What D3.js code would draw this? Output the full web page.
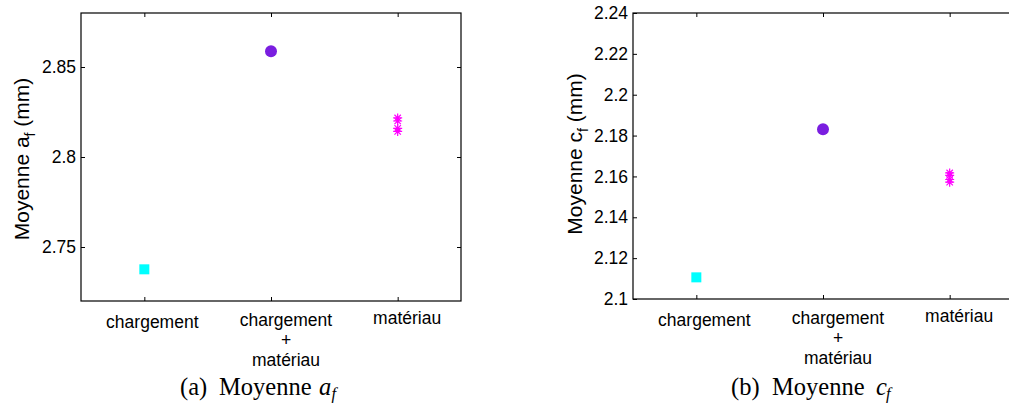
<!DOCTYPE html>
<html>
<head>
<meta charset="utf-8">
<script src="https://cdn.jsdelivr.net/npm/d3@7"></script>
<style>
  html, body { margin: 0; padding: 0; background: #fff; }
  svg { display: block; }
  .tick text { font-family: "Liberation Sans", Arial, sans-serif; }
</style>
</head>
<body>
<svg id="chart" width="1009" height="403"></svg>
<script>
// ---------- data ----------
const categories = [["chargement"], ["chargement", "+", "matériau"], ["matériau"]];
const afChargement = [2.7376];
const afChargementMateriau = [2.8587];
const afMateriau = [2.8217, 2.8200, 2.8159, 2.8142];
const cfChargement = [2.1106];
const cfChargementMateriau = [2.1831];
const cfMateriau = [2.1617, 2.1605, 2.1585, 2.1572];
const afTicks = [2.75, 2.8, 2.85];
const cfTicks = [2.1, 2.12, 2.14, 2.16, 2.18, 2.2, 2.22, 2.24];
const afDomain = [2.72, 2.88];
const cfDomain = [2.1, 2.24];

// ---------- layout ----------
const svg = d3.select("#chart");
const FONT = '"Liberation Sans", Arial, sans-serif';
const SERIF = '"Liberation Serif", "Times New Roman", serif';
const labelDx = [8, 15, 9.5];
const labelDy = [27, 24.5, 23];

const panels = [
  { left: 81, right: 461, top: 13, bottom: 301, domain: afDomain, ticks: afTicks,
    series: [afChargement, afChargementMateriau, afMateriau], letter: "a",
    ylabX: 28.5, ylabY: 159, capX: [180, 219, 319, 331.5], tag: "(a)" },
  { left: 633, right: 1013, top: 13, bottom: 299, domain: cfDomain, ticks: cfTicks,
    series: [cfChargement, cfChargementMateriau, cfMateriau], letter: "c",
    ylabX: 581.5, ylabY: 154, capX: [731, 772, 876, 886], tag: "(b)" }
];

const colors = ["#00ffff", "#7a1ee0", "#ff00ff"];

panels.forEach(p => {
  const x = d3.scaleLinear().domain([0.5, 3.5]).range([p.left, p.right]);
  const y = d3.scaleLinear().domain(p.domain).range([p.bottom, p.top]);
  const g = svg.append("g");

  // box
  g.append("rect").attr("x", p.left).attr("y", p.top)
    .attr("width", p.right - p.left).attr("height", p.bottom - p.top)
    .attr("fill", "none").attr("stroke", "#000").attr("stroke-width", 1.2);

  const fmt = v => String(+v.toFixed(2));
  // y axes
  const yl = g.append("g").attr("transform", `translate(${p.left},0)`)
    .call(d3.axisLeft(y).tickValues(p.ticks).tickFormat(fmt).tickSizeInner(-4).tickSizeOuter(0).tickPadding(5));
  yl.select(".domain").remove();
  yl.selectAll("text").attr("font-size", 17.5).attr("font-family", FONT).attr("fill", "#000");
  yl.selectAll("line").attr("stroke", "#000");
  const yr = g.append("g").attr("transform", `translate(${p.right},0)`)
    .call(d3.axisRight(y).tickValues(p.ticks).tickFormat("").tickSizeInner(-4).tickSizeOuter(0));
  yr.select(".domain").remove();
  yr.selectAll("line").attr("stroke", "#000");

  // x axes
  const xb = g.append("g").attr("transform", `translate(0,${p.bottom})`)
    .call(d3.axisBottom(x).tickValues([1, 2, 3]).tickFormat("").tickSizeInner(-4).tickSizeOuter(0));
  xb.select(".domain").remove();
  xb.selectAll("line").attr("stroke", "#000");
  const xt = g.append("g").attr("transform", `translate(0,${p.top})`)
    .call(d3.axisTop(x).tickValues([1, 2, 3]).tickFormat("").tickSizeInner(-4).tickSizeOuter(0));
  xt.select(".domain").remove();
  xt.selectAll("line").attr("stroke", "#000");

  // category labels
  categories.forEach((lines, i) => {
    const t = g.append("text")
      .attr("font-family", FONT).attr("font-size", 17.5).attr("text-anchor", "middle")
      .attr("fill", "#000");
    lines.forEach((ln, k) => {
      t.append("tspan").attr("x", x(i + 1) + labelDx[i])
        .attr("y", p.bottom + labelDy[i] + k * 20).text(ln);
    });
  });

  // markers
  g.selectAll(".sq").data(p.series[0]).enter().append("rect")
    .attr("x", x(1) - 5).attr("y", d => y(d) - 5)
    .attr("width", 10).attr("height", 10).attr("fill", colors[0]);
  g.selectAll(".ci").data(p.series[1]).enter().append("circle")
    .attr("cx", x(2)).attr("cy", d => y(d)).attr("r", 6).attr("fill", colors[1]);
  const s = 4.5, dd = 3.2;
  g.selectAll(".st").data(p.series[2]).enter().append("path")
    .attr("d", d => {
      const cx = x(3), cy = y(d);
      return `M${cx - s},${cy}L${cx + s},${cy}M${cx},${cy - s}L${cx},${cy + s}` +
        `M${cx - dd},${cy - dd}L${cx + dd},${cy + dd}M${cx - dd},${cy + dd}L${cx + dd},${cy - dd}`;
    })
    .attr("stroke", colors[2]).attr("stroke-width", 1.2).attr("fill", "none");

  // y label
  const yl2 = g.append("text")
    .attr("transform", `translate(${p.ylabX},${p.ylabY}) rotate(-90)`)
    .attr("text-anchor", "middle").attr("font-family", FONT).attr("font-size", 21).attr("fill", "#000");
  yl2.append("tspan").text("Moyenne " + p.letter);
  yl2.append("tspan").attr("font-size", 14).attr("dy", 6).text("f");
  yl2.append("tspan").attr("dy", -6).text(" (mm)");

  // caption
  const cap = g.append("g").attr("font-family", SERIF).attr("font-size", 24.5).attr("fill", "#000");
  cap.append("text").attr("x", p.capX[0]).attr("y", 395).text(p.tag);
  cap.append("text").attr("x", p.capX[1]).attr("y", 395).text("Moyenne");
  cap.append("text").attr("x", p.capX[2]).attr("y", 395).attr("font-style", "italic").text(p.letter);
  cap.append("text").attr("x", p.capX[3]).attr("y", 399).attr("font-style", "italic")
    .attr("font-size", 16.5).text("f");
});
</script>
</body>
</html>
